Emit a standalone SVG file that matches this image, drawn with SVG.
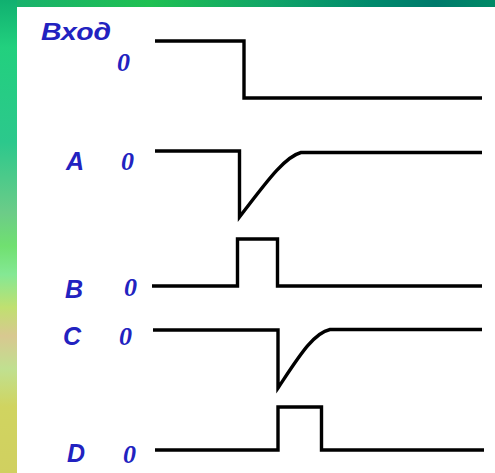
<svg xmlns="http://www.w3.org/2000/svg" width="495" height="473" viewBox="0 0 495 473">
  <defs>
    <linearGradient id="topBand" x1="0" y1="0" x2="1" y2="0">
      <stop offset="0" stop-color="#18b070"/>
      <stop offset="0.3" stop-color="#1fc052"/>
      <stop offset="0.55" stop-color="#10a468"/>
      <stop offset="0.75" stop-color="#008a6c"/>
      <stop offset="0.88" stop-color="#007a6c"/>
      <stop offset="1" stop-color="#008a66"/>
    </linearGradient>
    <linearGradient id="leftBand" x1="0" y1="0" x2="0" y2="1">
      <stop offset="0" stop-color="#10b070"/>
      <stop offset="0.1" stop-color="#22d07e"/>
      <stop offset="0.3" stop-color="#2cc88c"/>
      <stop offset="0.45" stop-color="#6ccc88"/>
      <stop offset="0.52" stop-color="#70e070"/>
      <stop offset="0.58" stop-color="#84e894"/>
      <stop offset="0.65" stop-color="#c0e070"/>
      <stop offset="0.71" stop-color="#d8c890"/>
      <stop offset="0.78" stop-color="#c0e090"/>
      <stop offset="0.86" stop-color="#d0d460"/>
      <stop offset="1" stop-color="#d0d060"/>
    </linearGradient>
  </defs>
  <style>
    .wave { fill: none; stroke: #000; stroke-width: 3.4; stroke-linejoin: miter; }
    .lbl { font-family: "Liberation Sans", Arial, sans-serif; font-style: italic; font-weight: bold; font-size: 25px; fill: #2222c0; }
    .title { font-family: "Liberation Sans", Arial, sans-serif; font-style: italic; font-weight: bold; font-size: 23px; fill: #2222c0; }
    .zero { font-family: "Liberation Serif", "Times New Roman", serif; font-style: italic; font-weight: bold; font-size: 26px; fill: #2222c0; }
  </style>
  <rect x="0" y="0" width="495" height="473" fill="#ffffff"/>
  <rect x="0" y="0" width="495" height="7" fill="url(#topBand)"/>
  <rect x="0" y="0" width="17" height="473" fill="url(#leftBand)"/>

  <g id="input">
    <text class="title" x="41" y="40" textLength="70" lengthAdjust="spacingAndGlyphs">Вход</text>
    <text class="zero" x="117" y="71">0</text>
  </g>
  <g id="A">
    <text class="lbl" x="66" y="170">A</text>
    <text class="zero" x="121" y="170">0</text>
  </g>
  <g id="B">
    <text class="lbl" x="65" y="298">B</text>
    <text class="zero" x="124" y="296">0</text>
  </g>
  <g id="C">
    <text class="lbl" x="63" y="345">C</text>
    <text class="zero" x="119" y="345">0</text>
  </g>
  <g id="D">
    <text class="lbl" x="67" y="462">D</text>
    <text class="zero" x="123" y="463">0</text>
  </g>

  <g id="connectors">
    <path class="wave" d="M155,41 H244 V98 H482"/>
    <path class="wave" d="M155,151 H239.5 V217 C 265,184 284,157 301,152.5 H482"/>
    <path class="wave" d="M152,286 H237.5 V239 H277.5 V286 H482"/>
    <path class="wave" d="M153,330 H278 V388 C 298,358 313,333 330,329.5 H482"/>
    <path class="wave" d="M155,450 H278 V407 H321.5 V450 H484"/>
  </g>
</svg>
